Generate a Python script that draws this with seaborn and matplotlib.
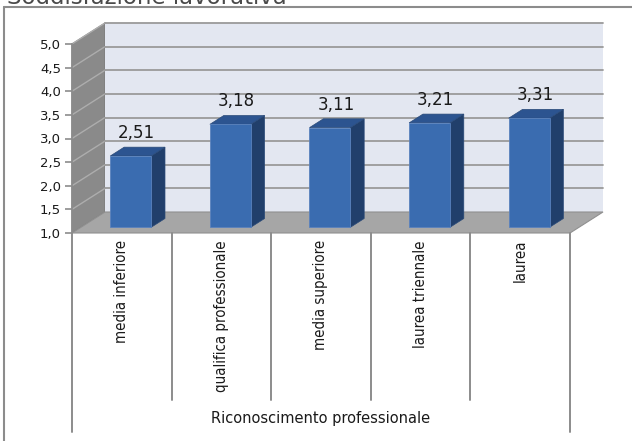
import numpy as np
import matplotlib
matplotlib.use("Agg")
import matplotlib.pyplot as plt
from matplotlib.patches import Polygon, Rectangle
from matplotlib.lines import Line2D
import seaborn as sns

# ---- data -------------------------------------------------------------
categories = ["media inferiore", "qualifica professionale", "media superiore",
              "laurea triennale", "laurea"]
values = [2.51, 3.18, 3.11, 3.21, 3.31]
value_labels = ["2,51", "3,18", "3,11", "3,21", "3,31"]
ytick_values = [1.0, 1.5, 2.0, 2.5, 3.0, 3.5, 4.0, 4.5, 5.0]
ytick_labels = ["1,0", "1,5", "2,0", "2,5", "3,0", "3,5", "4,0", "4,5", "5,0"]
axis_title = "Riconoscimento professionale"
chart_title = "Soddisfazione lavorativa"

# ---- figure & axes ---------------------------------------------------------
sns.set_theme(style="white")
plt.rcParams["font.family"] = ["DejaVu Sans"]

W, H = 632, 441
fig = plt.figure(figsize=(W / 100, H / 100), dpi=100)
fig.patch.set_facecolor("white")

# front plane of the 3-D plot, in pixels
px_left, px_right, px_top, px_bottom = 72, 570, 44, 233
ax = fig.add_axes([px_left / W, (H - px_bottom) / H,
                   (px_right - px_left) / W, (px_bottom - px_top) / H])
ax.set_xlim(-0.5, 4.5)
ax.set_ylim(1.0, 5.0)
ax.patch.set_alpha(0)

# depth vector of the 3-D box (33 px right, 21 px up) in data units
sx = (px_right - px_left) / 5.0
sy = (px_bottom - px_top) / 4.0
ddx, ddy = 33 / sx, 21 / sy

wall_c, side_c, floor_c = "#e3e7f1", "#8a8a8a", "#a6a6a6"
grid_c = "#9a9a9a"

# side wall, back wall, floor
ax.add_patch(Polygon([(-0.5, 1), (-0.5 + ddx, 1 + ddy), (-0.5 + ddx, 5 + ddy), (-0.5, 5)],
                     closed=True, fc=side_c, ec="#7a7a7a", lw=0.8, clip_on=False, zorder=0))
ax.add_patch(Rectangle((-0.5 + ddx, 1 + ddy), 5, 4, fc=wall_c, ec="none",
                       clip_on=False, zorder=0))
ax.add_patch(Polygon([(-0.5, 1), (4.5, 1), (4.5 + ddx, 1 + ddy), (-0.5 + ddx, 1 + ddy)],
                     closed=True, fc=floor_c, ec="#909090", lw=0.8, clip_on=False, zorder=1))

# gridlines across side wall and back wall
for y in ytick_values[1:]:
    ax.add_line(Line2D([-0.5, -0.5 + ddx], [y, y + ddy], color="#adadad", lw=1.0,
                       clip_on=False, zorder=0.5))
    ax.add_line(Line2D([-0.5 + ddx, 4.5 + ddx], [y + ddy, y + ddy], color=grid_c, lw=1.3,
                       clip_on=False, zorder=0.5))

# ---- bars ---------------------------------------------------------------
front_c, right_c, top_c = "#3a6cb0", "#213f6b", "#2c5490"
sns.barplot(x=categories, y=values, ax=ax, width=0.41, color=front_c,
            saturation=1, edgecolor="#5a82bd", linewidth=0.6, zorder=3)

f0, fd = 0.27, 0.42          # bar front position and depth, fraction of box depth
for bar, v, lab in zip(ax.patches[-len(values):], values, value_labels):
    x0 = bar.get_x() + f0 * ddx
    w = bar.get_width()
    x1 = x0 + w
    b = 1.0 + f0 * ddy
    t = v + f0 * ddy
    bar.set_x(x0)
    bar.set_y(b)
    bar.set_height(v - 1.0)
    bar.set_clip_on(False)
    bx, by = fd * ddx, fd * ddy
    ax.add_patch(Polygon([(x1, b), (x1 + bx, b + by), (x1 + bx, t + by), (x1, t)],
                         closed=True, fc=right_c, ec="#2a4a78", lw=0.5,
                         clip_on=False, zorder=2.9))
    ax.add_patch(Polygon([(x0, t), (x1, t), (x1 + bx, t + by), (x0 + bx, t + by)],
                         closed=True, fc=top_c, ec="#2a4a78", lw=0.5,
                         clip_on=False, zorder=2.9))
    ax.annotate(lab, (x0 + w / 2 + 0.06, t), xytext=(0, 10), textcoords="offset points",
                ha="center", va="bottom", fontsize=12, color="#1a1a1a",
                annotation_clip=False, zorder=5)

# ---- axes styling -----------------------------------------------------------
for s in ["top", "right", "bottom"]:
    ax.spines[s].set_visible(False)
ax.spines["left"].set_color("#8c8c8c")
ax.spines["left"].set_linewidth(1.2)
ax.set_yticks(ytick_values)
ax.set_yticklabels(ytick_labels, fontsize=9.5, color="#1a1a1a")
ax.tick_params(axis="y", length=5, width=1.2, color="#8c8c8c", pad=3, left=True)
ax.set_xticks([])
ax.set_xlabel("")
ax.set_ylabel("")

# category table under the floor
def ay(py):
    return (px_bottom - py) / (px_bottom - px_top)

tr = ax.get_xaxis_transform()
for i in range(len(categories) + 1):
    xb = -0.5 + i
    end = 432 if i in (0, len(categories)) else 400
    ax.add_line(Line2D([xb, xb], [0, ay(end)], transform=tr, color="#8c8c8c",
                       lw=1.4, clip_on=False))
for i, c in enumerate(categories):
    ax.text(i, ay(240), c, transform=tr, rotation=90, ha="center", va="top",
            fontsize=10.8, color="#1a1a1a", fontstretch="condensed",
            family=["Liberation Sans Narrow", "DejaVu Sans"])
ax.text(2.0, ay(418), axis_title, transform=tr, ha="center", va="center",
        fontsize=10.5, color="#1a1a1a")

# chart frame and the title above it
fig.add_artist(Line2D([4 / W, 4 / W], [0, 1 - 7 / H], transform=fig.transFigure,
                      color="#8c8c8c", lw=1.5))
fig.add_artist(Line2D([4 / W, 1], [1 - 7 / H, 1 - 7 / H], transform=fig.transFigure,
                      color="#8c8c8c", lw=1.5))
fig.text(7 / W, 1 - 3.5 / H, chart_title, ha="left", va="baseline", fontsize=16.5,
         color="#4a4a4a")

fig.savefig("out.png", dpi=100)
